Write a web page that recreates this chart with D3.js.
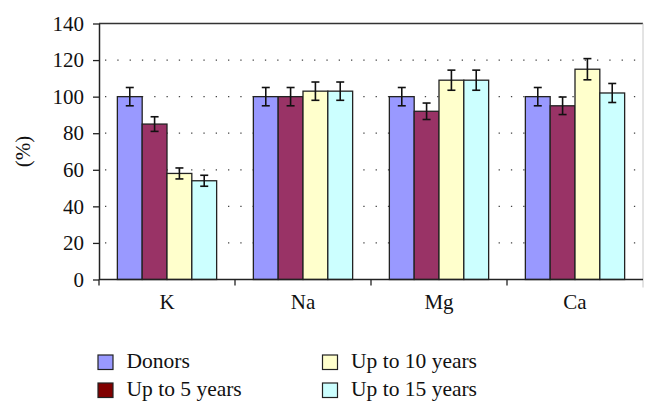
<!DOCTYPE html>
<html><head><meta charset="utf-8">
<script src="https://cdn.jsdelivr.net/npm/d3@7"></script>
<style>body{margin:0;background:#fff}svg{display:block}</style>
</head><body><svg id="c" width="657" height="414" font-family="'Liberation Serif', 'DejaVu Serif', serif"></svg>
<script>
const categories = ["K", "Na", "Mg", "Ca"];
const seriesNames = ["Donors", "Up to 5 years", "Up to 10 years", "Up to 15 years"];
const donors = [100, 100, 100, 100];
const upTo5 = [85, 100, 92, 95];
const upTo10 = [58, 103, 109, 115];
const upTo15 = [54, 103, 109, 102];
const errDonors = [5, 5, 5, 5];
const errUpTo5 = [4, 5, 4.5, 4.8];
const errUpTo10 = [3, 5, 5.5, 5.8];
const errUpTo15 = [3, 5, 5.5, 5.2];
const yTicks = [0, 20, 40, 60, 80, 100, 120, 140];
const barColors = ["#9999ff", "#993366", "#ffffcc", "#ccffff"];
const legendColors = ["#9999ff", "#800000", "#ffffcc", "#ccffff"];

const FONT = "'Liberation Serif', 'DejaVu Serif', serif";
const values = [donors, upTo5, upTo10, upTo15];
const errs = [errDonors, errUpTo5, errUpTo10, errUpTo15];

const svg = d3.select("#c");
const L = 99, R = 643, T = 23.5, B = 279.5;
const x0 = d3.scaleBand().domain(categories).range([L, R]).paddingInner(0.27).paddingOuter(0.135);
const xOuter = d3.scaleBand().domain(categories).range([L, R]);
const x1 = d3.scaleBand().domain(d3.range(4)).range([0, x0.bandwidth()]);
const y = d3.scaleLinear().domain([0, 140]).range([B, T]);

svg.append("g").selectAll("line").data(yTicks.filter(d => d > 0 && d < 140)).join("line")
  .attr("x1", L + 6).attr("x2", R - 2).attr("y1", d => y(d)).attr("y2", d => y(d))
  .attr("stroke", "#444").attr("stroke-width", 1.3).attr("stroke-dasharray", "1.3,11");

svg.append("line").attr("x1", L).attr("x2", R).attr("y1", y(140)).attr("y2", y(140)).attr("stroke", "#333").attr("stroke-width", 1.5);
svg.append("line").attr("x1", R).attr("x2", R).attr("y1", y(140)).attr("y2", B + 8).attr("stroke", "#c8c8c8").attr("stroke-width", 1);

const groups = svg.append("g").selectAll("g").data(categories).join("g")
  .attr("transform", d => `translate(${x0(d)},0)`);
groups.each(function(cat, ci) {
  const g = d3.select(this);
  for (let s = 0; s < 4; s++) {
    const v = values[s][ci], e = errs[s][ci];
    const bx = x1(s), bw = x1.bandwidth();
    g.append("rect").attr("x", bx).attr("y", y(v)).attr("width", bw).attr("height", y(0) - y(v))
      .attr("fill", barColors[s]).attr("stroke", "#222").attr("stroke-width", 1.3);
    const cx = bx + bw / 2;
    g.append("line").attr("x1", cx).attr("x2", cx).attr("y1", y(v + e)).attr("y2", y(v - e)).attr("stroke", "#111").attr("stroke-width", 1.6);
    [v + e, v - e].forEach(t => g.append("line").attr("x1", cx - 4).attr("x2", cx + 4).attr("y1", y(t)).attr("y2", y(t)).attr("stroke", "#111").attr("stroke-width", 1.6));
  }
});

const yAxis = svg.append("g").attr("transform", `translate(${L},0)`)
  .call(d3.axisLeft(y).tickValues(yTicks).tickSize(6).tickSizeOuter(0).tickPadding(9));
yAxis.attr("font-family", FONT).attr("font-size", 21);
yAxis.select(".domain").attr("stroke", "#222").attr("stroke-width", 1.5);
yAxis.selectAll(".tick line").attr("stroke", "#222").attr("stroke-width", 1.3);
yAxis.selectAll("text").attr("fill", "#111");

const xAxisG = svg.append("g").attr("transform", `translate(0,${B})`);
xAxisG.append("line").attr("x1", L).attr("x2", R).attr("stroke", "#222").attr("stroke-width", 1.5);
xAxisG.selectAll("line.t").data(categories).join("line").attr("class", "t")
  .attr("x1", d => xOuter(d)).attr("x2", d => xOuter(d)).attr("y1", 0).attr("y2", 6).attr("stroke", "#222").attr("stroke-width", 1.3);
xAxisG.selectAll("text").data(categories).join("text")
  .attr("x", d => xOuter(d) + xOuter.bandwidth() / 2).attr("y", 29).attr("text-anchor", "middle")
  .attr("font-family", FONT).attr("font-size", 21).attr("fill", "#111").text(d => d);

svg.append("text").attr("transform", `translate(30,${(T + B) / 2}) rotate(-90)`).attr("text-anchor", "middle")
  .attr("font-family", FONT).attr("font-size", 21).attr("fill", "#111").text("(%)");

const legPos = [[98, 355], [98, 383], [322.5, 355], [322.5, 383]];
seriesNames.forEach((n, i) => {
  const [lx, ly] = legPos[i];
  svg.append("rect").attr("x", lx).attr("y", ly).attr("width", 15).attr("height", 14.5)
    .attr("fill", legendColors[i]).attr("stroke", "#222").attr("stroke-width", 1.2);
  svg.append("text").attr("x", lx + 28.5).attr("y", ly + 13).attr("font-family", FONT).attr("font-size", 21.5).attr("fill", "#111").text(n);
});
</script></body></html>
